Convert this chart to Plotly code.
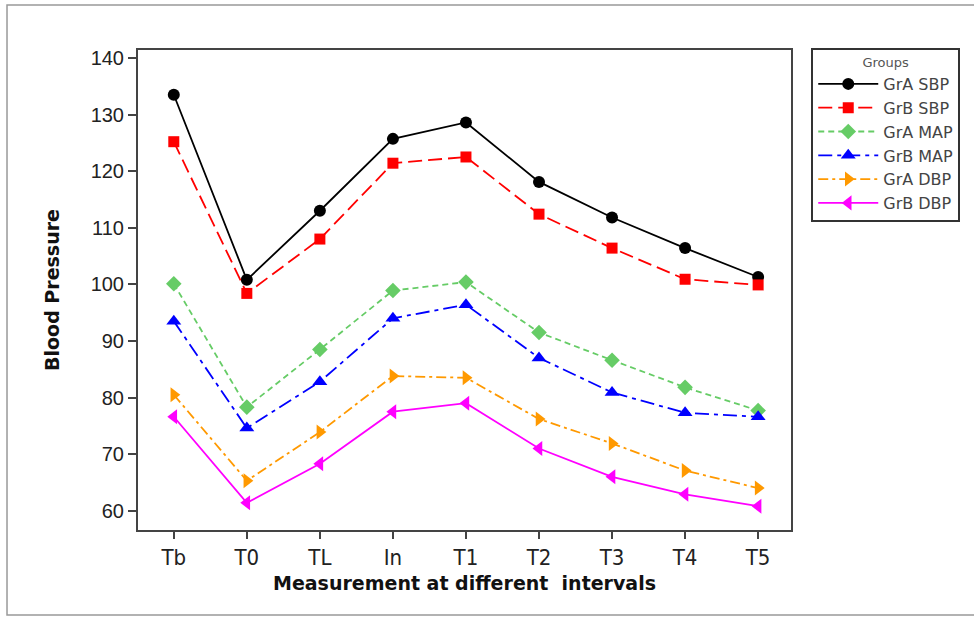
import plotly.graph_objects as go

categories = ["Tb", "T0", "TL", "In", "T1", "T2", "T3", "T4", "T5"]
gra_sbp = [133.5, 100.8, 113.0, 125.7, 128.6, 118.1, 111.8, 106.4, 101.3]
grb_sbp = [125.2, 98.4, 108.0, 121.4, 122.5, 112.4, 106.4, 100.9, 99.9]
gra_map = [100.1, 78.3, 88.5, 98.9, 100.4, 91.5, 86.6, 81.8, 77.7]
grb_map = [93.5, 74.6, 82.8, 94.0, 96.4, 87.0, 80.9, 77.3, 76.6]
gra_dbp = [80.5, 65.3, 73.9, 83.8, 83.5, 76.2, 71.9, 67.1, 64.0]
grb_dbp = [76.6, 61.4, 68.3, 77.5, 79.0, 71.0, 66.0, 62.9, 60.8]
y_ticks = [60, 70, 80, 90, 100, 110, 120, 130, 140]

series = [
    ("GrA SBP", gra_sbp, "black", "solid", "circle", 12),
    ("GrB SBP", grb_sbp, "#ff0000", "14px,6px", "square", 11),
    ("GrA MAP", gra_map, "#66cc66", "6px,4px", "diamond", 12),
    ("GrB MAP", grb_map, "#0000ff", "14px,5px,4px,5px", "triangle-up", 13),
    ("GrA DBP", gra_dbp, "#ff9900", "10px,4px,3px,4px", "triangle-right", 13),
    ("GrB DBP", grb_dbp, "#ff00ff", "solid", "triangle-left", 13),
]

fig = go.Figure()
for name, vals, color, dash, sym, size in series:
    fig.add_trace(go.Scatter(
        x=categories, y=vals, name=name, mode="lines+markers",
        line=dict(color=color, width=1.8, dash=dash),
        marker=dict(symbol=sym, size=size, color=color),
    ))

fig.update_layout(
    width=974, height=619,
    margin=dict(l=138, r=183, t=50, b=89),
    paper_bgcolor="white", plot_bgcolor="white",
    font=dict(family="Liberation Sans, Arial, sans-serif", color="#222"),
    showlegend=True,
    legend=dict(
        title=dict(text="Groups", font=dict(size=13, color="#555"), side="top center"),
        x=1.031, y=1.004, xanchor="left", yanchor="top",
        bordercolor="#333", borderwidth=2, bgcolor="white",
        font=dict(size=16, color="#444", family="DejaVu Sans, sans-serif"),
        itemwidth=60, tracegroupgap=0,
    ),
    xaxis=dict(
        type="category", categoryorder="array", categoryarray=categories,
        range=[-0.49, 8.45],
        showline=True, linecolor="#444", linewidth=2, mirror=True,
        ticks="outside", ticklen=7, tickcolor="#444", tickwidth=1.5,
        showgrid=False, zeroline=False,
        tickfont=dict(family="Liberation Sans Narrow, DejaVu Sans Condensed, sans-serif", size=22, color="#222"),
        title=dict(text="Measurement at different  intervals",
                   font=dict(family="DejaVu Sans, sans-serif", size=19, color="#111", weight="bold"),
                   standoff=7),
    ),
    yaxis=dict(
        range=[56.6, 141.4], tickvals=y_ticks,
        showline=True, linecolor="#444", linewidth=2, mirror=True,
        ticks="outside", ticklen=8, tickcolor="#444", tickwidth=1.5,
        showgrid=False, zeroline=False,
        tickfont=dict(family="Liberation Sans, Arial, sans-serif", size=20, color="#222"),
        title=dict(text="Blood Pressure",
                   font=dict(family="DejaVu Sans, sans-serif", size=19, color="#111", weight="bold"),
                   standoff=26),
    ),
    shapes=[
        dict(type="rect", xref="paper", yref="paper",
             x0=-0.2006, x1=1.45, y0=-0.177, y1=1.094,
             line=dict(color="#999", width=1.5), fillcolor="rgba(0,0,0,0)", layer="below"),
    ],
)

fig.write_html("out.html", config={"displayModeBar": False},
               post_script="document.body.style.margin='0';")
